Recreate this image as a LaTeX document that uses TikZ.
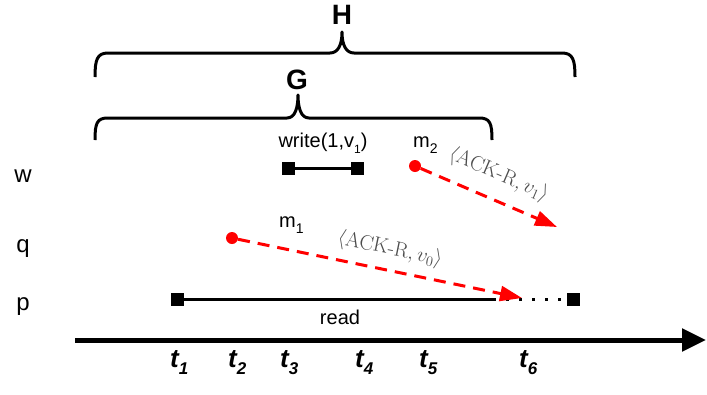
\documentclass[tikz,border=0pt]{standalone}
\usepackage{amsmath}
\usepackage{fontspec}
\newfontfamily\arialfont{Liberation Sans}
\usetikzlibrary{arrows.meta,positioning,calc}

\begin{document}
\begin{tikzpicture}[x=1pt, y=-1pt, >=Stealth,
  sq/.style={draw,fill,rectangle,minimum size=12pt,inner sep=0pt},
  sender/.style={circle,fill=red,minimum size=12pt,inner sep=0pt},
  txt/.style={font=\arialfont\fontsize{20}{24}\selectfont,inner sep=0pt,anchor=base},
  proc/.style={font=\arialfont\fontsize{24}{28}\selectfont,inner sep=0pt,anchor=base},
  tick/.style={font=\arialfont\bfseries\itshape\fontsize{26}{30}\selectfont,inner sep=0pt,anchor=base west},
  ack/.style={font=\fontsize{21}{24}\selectfont,text=black!70,sloped,above=9pt,inner sep=0pt},
  msg/.style={red,line width=3pt,dash pattern=on 12pt off 8pt,-{Triangle[length=22pt,width=15pt]}},
  span/.style={line width=3pt},
  brace/.style={line width=3pt,line join=round}]
\useasboundingbox (0,0) rectangle (707,394);

% braces
\draw[brace] (95,77) .. controls (95,60) and (97,53) .. (108,53) -- (330,53)
  .. controls (338,53) and (342,45) .. (342,32) .. controls (342,45) and (346,53) .. (354,53)
  -- (562,53) .. controls (573,53) and (575,60) .. (575,77);
\node[font=\arialfont\bfseries\fontsize{28}{32}\selectfont,inner sep=0pt] (H) at (342,15) {H};
\draw[brace] (95,140) .. controls (95,123) and (97,118) .. (108,118) -- (287,118)
  .. controls (295,118) and (298,108) .. (298,95) .. controls (298,108) and (301,118) .. (309,118)
  -- (479,118) .. controls (490,118) and (492,123) .. (492,140);
\node[font=\arialfont\bfseries\fontsize{28}{32}\selectfont,inner sep=0pt] (G) at (297,80) {G};

% processes
\node[proc] (w) at (23,182) {w};
\node[proc] (q) at (23,252) {q};
\node[proc] (p) at (23,310) {p};

% write on w
\node[sq] (w1) at (288,168) {};
\node[sq] (w2) at (357,168) {};
\draw[span] (w1) -- (w2);
\node[txt] (wlab) at (323,147) {write(1,v\raisebox{-6pt}{\fontsize{12}{14}\selectfont 1})};

% read on p
\node[sq] (p1) at (177,299) {};
\node[sq] (p2) at (573,299) {};
\coordinate (pend) at (493,299);
\draw[span] (p1) -- (pend);
\draw[line width=3pt,dash pattern=on 3pt off 10pt] (pend) -- (p2);
\node[txt] (rlab) at (340,324) {read};

% messages
\node[sender] (m1) at (232,238) {};
\coordinate (m1tip) at (522,298);
\draw[msg] (m1) -- node[ack,pos=0.52] {$\langle\text{ACK-R}, v_0\rangle$} (m1tip);
\node[txt,anchor=base west] (m1lab) at (279,227) {m\raisebox{-6pt}{\fontsize{14}{16}\selectfont 1}};

\node[sender] (m2) at (415,166) {};
\coordinate (m2tip) at (557,227);
\draw[msg] (m2) -- node[ack,pos=0.5,above=13pt] {$\langle\text{ACK-R}, v_1\rangle$} (m2tip);
\node[txt,anchor=base west] (m2lab) at (413,147) {m\raisebox{-6pt}{\fontsize{14}{16}\selectfont 2}};

% time axis
\coordinate (ax0) at (75,340);
\coordinate (ax1) at (706,340);
\draw[line width=5pt,-{Triangle[length=24pt,width=22pt]}] (ax0) -- (ax1);
\foreach \x/\i in {170/1,228/2,280/3,355/4,419/5,519/6}
  \node[tick] (t\i) at (\x,367) {t\raisebox{-7pt}{\fontsize{17}{19}\selectfont\i}};
\end{tikzpicture}
\end{document}
